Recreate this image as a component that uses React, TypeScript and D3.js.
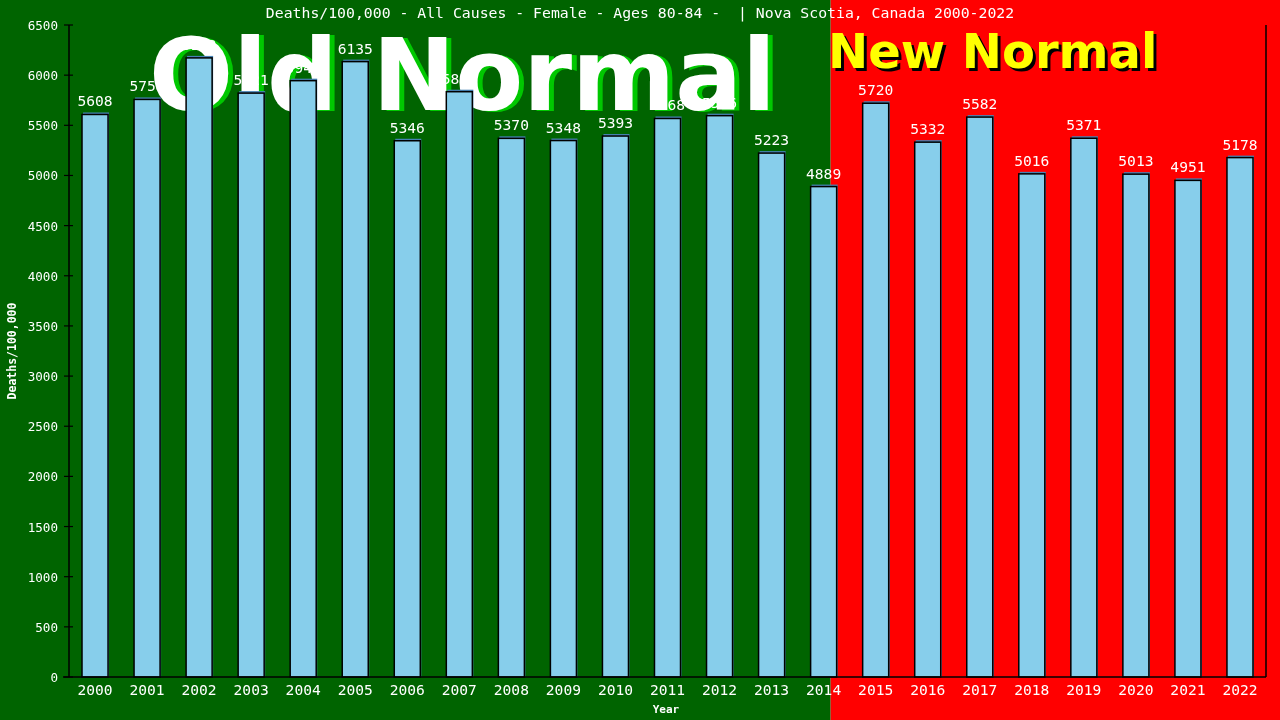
import React, { useEffect, useRef } from 'react';
import * as d3 from 'd3';

const years = ['2000', '2001', '2002', '2003', '2004', '2005', '2006', '2007', '2008', '2009', '2010', '2011',
  '2012', '2013', '2014', '2015', '2016', '2017', '2018', '2019', '2020', '2021', '2022'];
const deaths = [5608, 5758, 6172, 5821, 5945, 6135, 5346, 5835, 5370, 5348, 5393, 5568,
  5596, 5223, 4889, 5720, 5332, 5582, 5016, 5371, 5013, 4951, 5178];
const yTicks = d3.range(0, 6501, 500);
const titleText = 'Deaths/100,000 - All Causes - Female - Ages 80-84 -  | Nova Scotia, Canada 2000-2022';

const App: React.FC = () => {
  const svgRef = useRef<SVGSVGElement>(null);

  useEffect(() => {
    if (!svgRef.current) return;
    const width = 1280;
    const height = 720;
    const svg = d3.select(svgRef.current).attr('width', width).attr('height', height);
    svg.selectAll('*').remove();

    const mono = 'DejaVu Sans Mono, monospace';
    const sans = 'DejaVu Sans, Verdana, sans-serif';
    const left = 69, right = 1266, top = 25, bottom = 677;

    const x = d3.scaleBand<string>().domain(years).range([left, right]).paddingInner(0.5).paddingOuter(0.25);
    const y = d3.scaleLinear().domain([0, 6500]).range([bottom, top]);

    // backgrounds: old normal green, new normal red
    const split = (x('2014') as number) + x.bandwidth() * 0.77;
    svg.append('rect').attr('x', 0).attr('y', 0).attr('width', split).attr('height', height).attr('fill', '#006400');
    svg.append('rect').attr('x', split).attr('y', 0).attr('width', width - split).attr('height', height).attr('fill', '#ff0000');

    // big labels (behind the bars)
    svg.append('text').attr('x', 154).attr('y', 111)
      .attr('font-family', sans).attr('font-weight', 'bold').attr('font-size', 99)
      .attr('fill', '#00c800').text('Old Normal');
    svg.append('text').attr('x', 149).attr('y', 110)
      .attr('font-family', sans).attr('font-weight', 'bold').attr('font-size', 99)
      .attr('fill', '#ffffff').text('Old Normal');

    svg.append('text').attr('x', 831).attr('y', 71)
      .attr('font-family', sans).attr('font-weight', 'bold').attr('font-size', 48)
      .attr('fill', '#000000').text('New Normal');
    svg.append('text').attr('x', 828).attr('y', 68)
      .attr('font-family', sans).attr('font-weight', 'bold').attr('font-size', 48)
      .attr('fill', '#ffff00').text('New Normal');

    // title
    svg.append('text').attr('x', 640).attr('y', 18).attr('text-anchor', 'middle')
      .style('white-space', 'pre')
      .attr('font-family', mono).attr('font-size', 14.8).attr('fill', '#ffffff').text(titleText);

    // bars
    const bars = svg.append('g');
    years.forEach((yr, i) => {
      const bx = x(yr) as number;
      const by = y(deaths[i]);
      bars.append('rect').attr('x', bx + 1).attr('y', by - 2)
        .attr('width', x.bandwidth()).attr('height', bottom - by + 2).attr('fill', '#4682b4');
      bars.append('rect').attr('x', bx).attr('y', by)
        .attr('width', x.bandwidth()).attr('height', bottom - by)
        .attr('fill', '#87ceeb').attr('stroke', '#000').attr('stroke-width', 1.5);
      bars.append('text').attr('x', bx + x.bandwidth() / 2).attr('y', by - 8)
        .attr('text-anchor', 'middle').attr('font-family', mono).attr('font-size', 14.6)
        .attr('fill', '#ffffff').text(String(deaths[i]));
    });

    // axes frame
    svg.append('line').attr('x1', left).attr('x2', left).attr('y1', top).attr('y2', bottom).attr('stroke', '#000').attr('stroke-width', 1.5);
    svg.append('line').attr('x1', right).attr('x2', right).attr('y1', top).attr('y2', bottom).attr('stroke', '#000').attr('stroke-width', 1.5);
    svg.append('line').attr('x1', left - 6).attr('x2', right).attr('y1', bottom).attr('y2', bottom).attr('stroke', '#000').attr('stroke-width', 1.5);

    // y ticks
    const yg = svg.append('g');
    yTicks.forEach(t => {
      yg.append('line').attr('x1', left - 5).attr('x2', left + 4).attr('y1', y(t)).attr('y2', y(t)).attr('stroke', '#000').attr('stroke-width', 1.2);
      yg.append('text').attr('x', left - 11).attr('y', y(t) + 5).attr('text-anchor', 'end')
        .attr('font-family', mono).attr('font-size', 12.6).attr('fill', '#ffffff').text(String(t));
    });

    // x labels
    years.forEach(yr => {
      svg.append('text').attr('x', (x(yr) as number) + x.bandwidth() / 2).attr('y', 695)
        .attr('text-anchor', 'middle').attr('font-family', mono).attr('font-size', 14.6)
        .attr('fill', '#ffffff').text(yr);
    });

    svg.append('text').attr('x', 666).attr('y', 713).attr('text-anchor', 'middle')
      .attr('font-family', mono).attr('font-weight', 'bold').attr('font-size', 11).attr('fill', '#ffffff').text('Year');

    svg.append('text').attr('transform', 'translate(16,351) rotate(-90)').attr('text-anchor', 'middle')
      .attr('font-family', mono).attr('font-weight', 'bold').attr('font-size', 11.5).attr('fill', '#ffffff').text('Deaths/100,000');
  }, []);

  return (
    <div style={{ position: 'fixed', left: 0, top: 0, width: 1280, height: 720 }}>
      <svg ref={svgRef} style={{ display: 'block' }} />
    </div>
  );
};

export default App;
